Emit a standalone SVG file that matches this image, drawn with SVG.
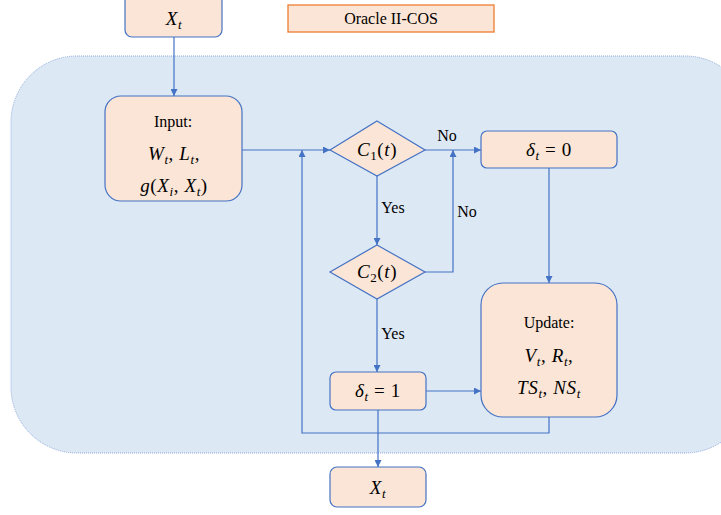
<svg xmlns="http://www.w3.org/2000/svg" width="721" height="515" viewBox="0 0 721 515">
  <defs>
    <marker id="arr" viewBox="0 0 10 10" refX="10" refY="5" markerWidth="7" markerHeight="7" markerUnits="userSpaceOnUse" orient="auto">
      <path d="M0,0 L10,5 L0,10 z" fill="#4472c4"/>
    </marker>
    <style>
      .node { fill: #fbe5d6; stroke: #4472c4; stroke-width: 1.2; }
      .edge { fill: none; stroke: #4472c4; stroke-width: 1.2; marker-end: url(#arr); }
      .txt { font-family: "Liberation Serif", "Times New Roman", serif; font-size: 16px; fill: #000; text-anchor: middle; }
      .math { font-family: "Liberation Serif", "DejaVu Serif", serif; font-style: italic; font-size: 19px; letter-spacing: 0.6px; fill: #000; text-anchor: middle; }
      .up { font-size: 19px; font-style: normal; }
      .sub { font-size: 13px; }
    </style>
  </defs>

  <!-- container region -->
  <rect id="region" x="11" y="56" width="740" height="397" rx="66" ry="66" fill="#dde8f5" stroke="#8faadc" stroke-width="1" stroke-dasharray="1 1"/>

  <g id="legend">
    <rect x="288" y="5" width="206" height="27" fill="#fbe5d6" stroke="#ed7d31" stroke-width="1.3"/>
    <text class="txt" x="391" y="24">Oracle II-COS</text>
  </g>

  <g id="connectors">
    <path class="edge" d="M174,37 V96"/>
    <path class="edge" d="M242,150 H330"/>
    <path class="edge" d="M425,150 H481"/>
    <path class="edge" d="M377,176 V245"/>
    <path class="edge" d="M425,272 H453 V150"/>
    <path class="edge" d="M377,299 V372"/>
    <path class="edge" d="M426,391 H481"/>
    <path class="edge" d="M549,168 V283"/>
    <path class="edge" d="M549,417 V433 H302 V150"/>
    <path class="edge" d="M378,410 V467"/>
    <text class="txt" x="447" y="141">No</text>
    <text class="txt" x="467" y="217">No</text>
    <text class="txt" x="393" y="213">Yes</text>
    <text class="txt" x="393" y="339">Yes</text>
  </g>

  <g id="x-in">
    <rect class="node" x="125" y="-6" width="97" height="43" rx="7"/>
    <text class="math" x="174" y="25">X<tspan class="sub" dy="4">t</tspan></text>
  </g>

  <g id="input">
    <rect class="node" x="105" y="96" width="137" height="105" rx="16"/>
    <text class="txt" x="173" y="127">Input:</text>
    <text class="math" x="174" y="160">W<tspan class="sub" dy="4">t</tspan><tspan dy="-4" class="up">, </tspan>L<tspan class="sub" dy="4">t</tspan><tspan dy="-4" class="up">,</tspan></text>
    <text class="math" x="174" y="192">g<tspan class="up">(</tspan>X<tspan class="sub" dy="4">i</tspan><tspan dy="-4" class="up">, </tspan>X<tspan class="sub" dy="4">t</tspan><tspan dy="-4" class="up">)</tspan></text>
  </g>

  <g id="c1">
    <polygon class="node" points="377,121 425,150 377,176 330,150"/>
    <text class="math" x="377" y="156">C<tspan class="sub" dy="4" font-style="normal">1</tspan><tspan dy="-4" class="up">(</tspan>t<tspan class="up">)</tspan></text>
  </g>

  <g id="c2">
    <polygon class="node" points="377,245 425,272 377,299 330,272"/>
    <text class="math" x="377" y="278">C<tspan class="sub" dy="4" font-style="normal">2</tspan><tspan dy="-4" class="up">(</tspan>t<tspan class="up">)</tspan></text>
  </g>

  <g id="delta0">
    <rect class="node" x="481" y="131" width="136" height="37" rx="6"/>
    <text class="math" x="549" y="156">δ<tspan class="sub" dy="4">t</tspan><tspan dy="-4" class="up"> = 0</tspan></text>
  </g>

  <g id="delta1">
    <rect class="node" x="330" y="372" width="96" height="38" rx="6"/>
    <text class="math" x="378" y="397">δ<tspan class="sub" dy="4">t</tspan><tspan dy="-4" class="up"> = 1</tspan></text>
  </g>

  <g id="update">
    <rect class="node" x="481" y="283" width="136" height="134" rx="22"/>
    <text class="txt" x="549" y="328">Update:</text>
    <text class="math" x="549" y="362">V<tspan class="sub" dy="4">t</tspan><tspan dy="-4" class="up">, </tspan>R<tspan class="sub" dy="4">t</tspan><tspan dy="-4" class="up">,</tspan></text>
    <text class="math" x="549" y="394">TS<tspan class="sub" dy="4">t</tspan><tspan dy="-4" class="up">, </tspan>NS<tspan class="sub" dy="4">t</tspan></text>
  </g>

  <g id="x-out">
    <rect class="node" x="330" y="467" width="96" height="40" rx="7"/>
    <text class="math" x="378" y="494">X<tspan class="sub" dy="4">t</tspan></text>
  </g>
</svg>
